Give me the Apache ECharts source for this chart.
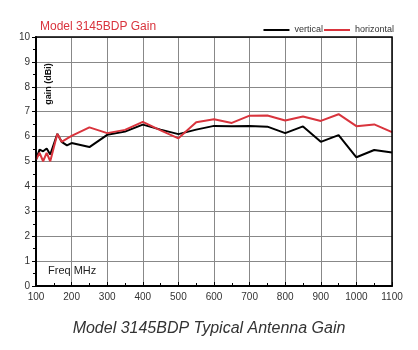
<!DOCTYPE html>
<html>
<head>
<meta charset="utf-8">
<script src="https://cdn.jsdelivr.net/npm/echarts@6/dist/echarts.min.js"></script>
<style>
  html, body { margin: 0; padding: 0; background: #fff; }
  #chart { width: 418px; height: 350px; }
</style>
</head>
<body>
<div id="chart"></div>
<script>
const freq = [100, 110, 120, 130, 140, 160, 172, 187, 200, 250, 300, 350, 400, 450, 500, 550, 600, 650, 700, 750, 800, 850, 900, 950, 1000, 1050, 1100];
const vertical = [5.07, 5.48, 5.41, 5.52, 5.28, 6.11, 5.79, 5.65, 5.74, 5.58, 6.07, 6.2, 6.48, 6.28, 6.1, 6.28, 6.43, 6.42, 6.43, 6.4, 6.14, 6.41, 5.79, 6.06, 5.17, 5.46, 5.36];
const horizontal = [5.07, 5.35, 5.01, 5.35, 5.01, 6.11, 5.79, 5.92, 6.03, 6.37, 6.14, 6.27, 6.59, 6.25, 5.93, 6.58, 6.7, 6.55, 6.84, 6.85, 6.65, 6.81, 6.63, 6.9, 6.42, 6.49, 6.18];

const pairs = (ys) => freq.map((f, i) => [f, ys[i]]);

const chart = echarts.init(document.getElementById('chart'));
chart.setOption({
  backgroundColor: '#fff',
  animation: false,
  title: [
    {
      text: 'Model 3145BDP Gain',
      left: 35,
      top: 16,
      textStyle: { color: '#d9343d', fontSize: 12, fontWeight: 'normal', fontFamily: 'Liberation Sans' },
    },
    {
      text: 'Model 3145BDP Typical Antenna Gain',
      left: 'center',
      top: 316,
      textStyle: { color: '#333', fontSize: 16, fontStyle: 'italic', fontWeight: 'normal', fontFamily: 'Liberation Sans' },
    },
  ],
  legend: {
    right: 24,
    top: 25,
    padding: 0,
    icon: 'rect',
    itemWidth: 26,
    itemHeight: 2,
    itemGap: 1,
    textStyle: { fontSize: 9, color: '#333', lineHeight: 10, fontFamily: 'Liberation Sans' },
    data: ['vertical', 'horizontal'],
  },
  grid: { left: 36, right: 26, top: 37, bottom: 64 },
  xAxis: {
    type: 'value',
    min: 100,
    max: 1100,
    interval: 100,
    axisLine: { show: true, lineStyle: { color: '#000', width: 2 } },
    axisTick: { show: true, inside: true, length: 4, lineStyle: { color: '#000' } },
    minorTick: { show: true, splitNumber: 2, length: 3, lineStyle: { color: '#000' } },
    axisLabel: { color: '#333', fontSize: 10, margin: 6, fontFamily: 'Liberation Sans', formatter: (v) => String(v) },
    splitLine: { show: true, lineStyle: { color: '#888', width: 1 } },
  },
  yAxis: {
    type: 'value',
    min: 0,
    max: 10,
    interval: 1,
    axisLine: { show: true, lineStyle: { color: '#000', width: 2 } },
    axisTick: { show: true, length: 4, lineStyle: { color: '#000' } },
    minorTick: { show: true, splitNumber: 2, length: 3, lineStyle: { color: '#000' } },
    axisLabel: { color: '#333', fontSize: 10, margin: 6, fontFamily: 'Liberation Sans' },
    splitLine: { show: true, lineStyle: { color: '#888', width: 1 } },
  },
  graphic: [
    {
      type: 'rect',
      shape: { x: 36, y: 37, width: 356, height: 249 },
      style: { fill: 'none', stroke: '#000', lineWidth: 1.5 },
      silent: true,
      z: 10,
    },
    {
      type: 'text',
      x: 49,
      y: 84,
      rotation: Math.PI / 2,
      style: { text: 'gain (dBi)', fill: '#111', font: 'bold 9px "Liberation Sans"', align: 'center', verticalAlign: 'middle' },
      z: 11,
    },
    {
      type: 'text',
      x: 48,
      y: 265,
      style: { text: 'Freq MHz', fill: '#222', font: '11px "Liberation Sans"' },
      z: 11,
    },
  ],
  series: [
    {
      name: 'vertical',
      type: 'line',
      data: pairs(vertical),
      showSymbol: false,
      color: '#000',
      lineStyle: { width: 2, color: '#000' },
      z: 3,
    },
    {
      name: 'horizontal',
      type: 'line',
      data: pairs(horizontal),
      showSymbol: false,
      color: '#d9343d',
      lineStyle: { width: 2, color: '#d9343d' },
      z: 4,
    },
  ],
});
</script>
</body>
</html>
